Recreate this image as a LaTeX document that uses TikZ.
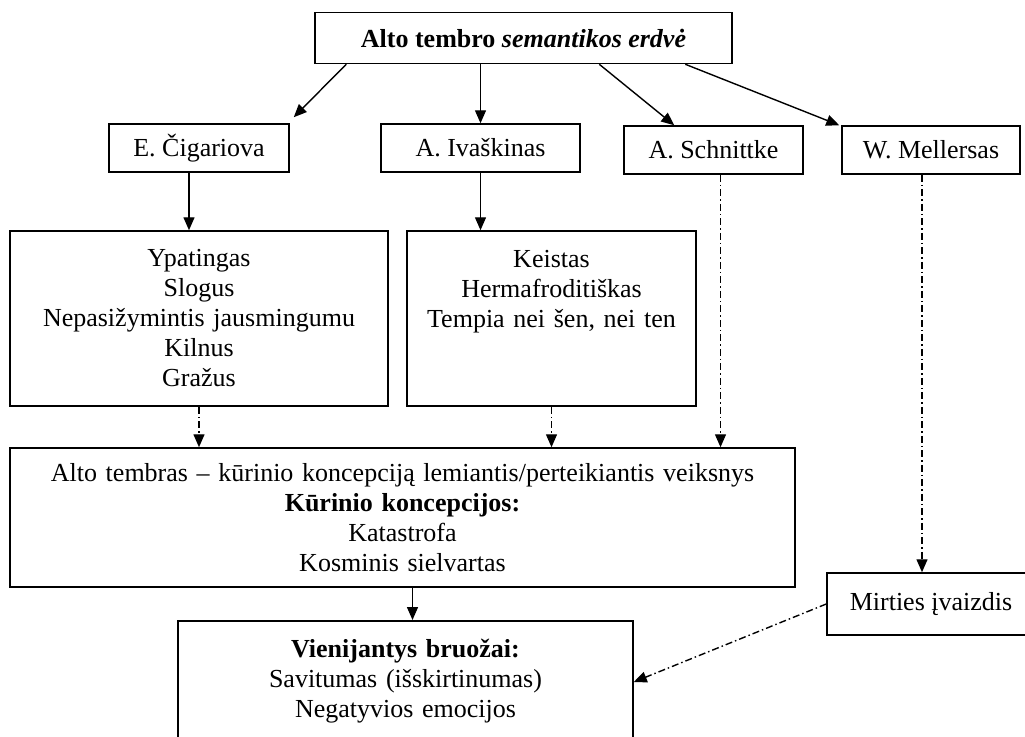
\documentclass[tikz,border=0pt]{standalone}
\usepackage{fontspec}
\setmainfont{Liberation Serif}
\usetikzlibrary{arrows.meta}

\begin{document}
\begin{tikzpicture}[
  x=1pt, y=-1pt,
  font=\fontsize{26}{30}\selectfont,
  box/.style={draw, line width=1.5pt, inner sep=0pt, align=center},
  arr/.style={line width=1.4pt, -{Triangle[length=13pt,width=11pt]}},
  darr/.style={arr, dash pattern=on 7pt off 3pt on 1.5pt off 3pt}
]
\useasboundingbox (0,0) rectangle (1025,736);
\clip (0,0) rectangle (1025,736);
% boxes
\node[box, minimum width=417pt, minimum height=51pt] (top) at (523.5,38) {\textbf{Alto tembro \textit{semantikos erdvė}}};
\node[box, minimum width=180pt, minimum height=48pt] (cig) at (199,148) {E. Čigariova};
\node[box, minimum width=199pt, minimum height=48pt] (ivas) at (480.5,148) {A. Ivaškinas};
\node[box, minimum width=179pt, minimum height=48pt] (schn) at (713.5,150) {A. Schnittke};
\node[box, minimum width=178pt, minimum height=48pt] (mell) at (931,150) {W. Mellersas};
\node[box, text width=378pt, minimum height=175pt] (ypat) at (199,318.5) {Ypatingas\\Slogus\\Nepasižymintis jausmingumu\\Kilnus\\Gražus};
\node[box, text width=289pt, minimum height=175pt] (keis) at (551.5,318.5) {Keistas\\Hermafroditiškas\\Tempia nei šen, nei ten\\\mbox{}\\\mbox{}};
\node[box, text width=785pt, minimum height=139pt] (big) at (402.5,517.5) {Alto tembras -- kūrinio koncepciją lemiantis/perteikiantis veiksnys\\\textbf{Kūrinio koncepcijos:}\\Katastrofa\\Kosminis sielvartas};
\node[box, text width=455pt, minimum height=175pt, anchor=north] (bott) at (405.5,620) {\textbf{Vienijantys bruožai:}\\Savitumas (išskirtinumas)\\Negatyvios emocijos\\\mbox{}\\\mbox{}};
\node[box, minimum width=208pt, minimum height=62pt] (mirt) at (931,604) {Mirties įvaizdis};
% arrows
\draw[arr] ([xshift=32pt]top.south west) -- ([xshift=4pt,yshift=6pt]cig.north east);
\draw[arr] (top.south -| ivas.north) -- (ivas.north);
\draw[arr] ([xshift=285pt]top.south west) -- ([xshift=51pt]schn.north west);
\draw[arr] ([xshift=371pt]top.south west) -- ([xshift=-2pt]mell.north west);
\draw[arr] ([xshift=-10pt]cig.south) -- ([xshift=-10pt]cig.south |- ypat.north);
\draw[arr] (ivas.south) -- (ivas.south |- keis.north);
\draw[darr] (ypat.south) -- (ypat.south |- big.north);
\draw[darr] (keis.south) -- (keis.south |- big.north);
\draw[darr] ([xshift=7pt]schn.south) -- ([xshift=7pt]schn.south |- big.north);
\draw[darr] ([xshift=-9pt]mell.south) -- ([xshift=-9pt]mell.south |- mirt.north);
\draw[arr] ([xshift=10pt]big.south) -- ([xshift=10pt]big.south |- bott.north);
\draw[darr] (mirt.west) -- ([yshift=-62pt]bott.north east);
\end{tikzpicture}
\end{document}
